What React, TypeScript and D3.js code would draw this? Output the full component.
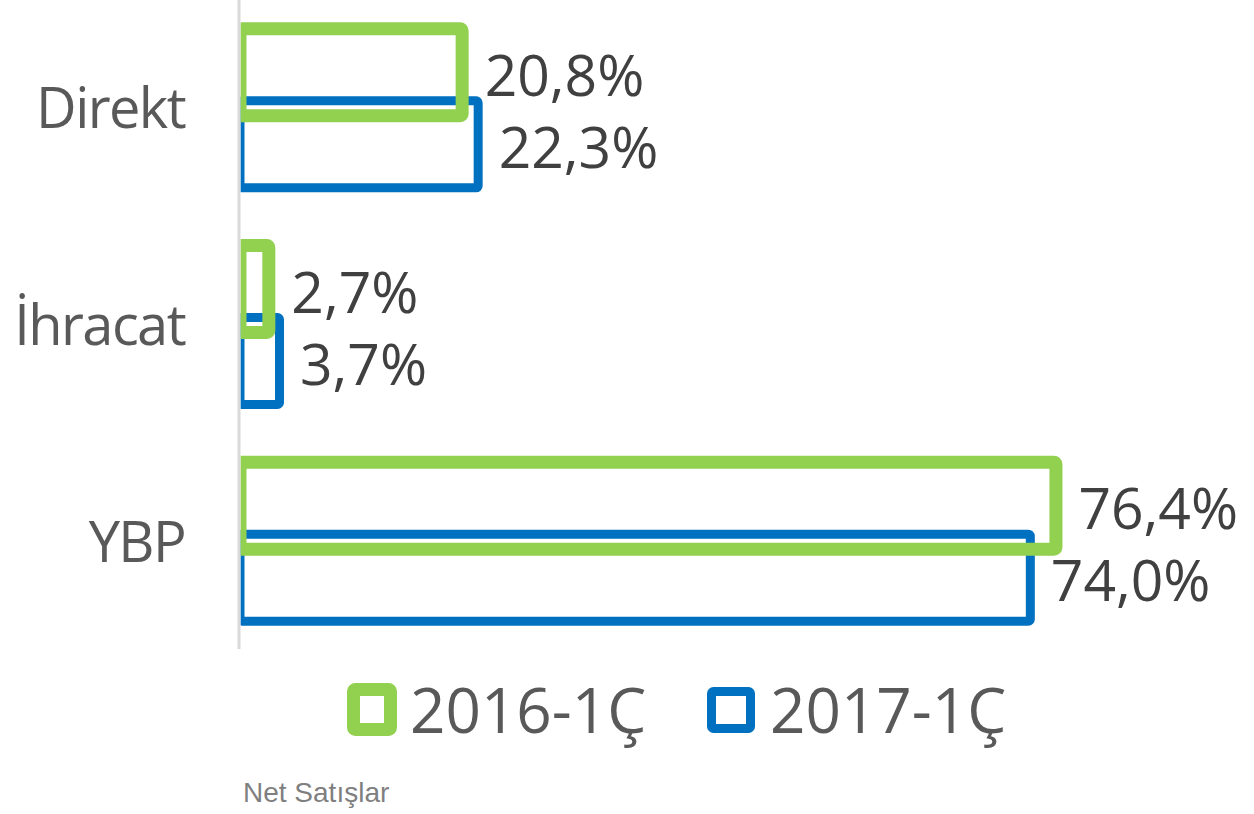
import React from "react";
import * as d3 from "d3";

const categories = ["Direkt", "İhracat", "YBP"];
const series2016 = [20.8, 2.7, 76.4];
const series2017 = [22.3, 3.7, 74.0];
const seriesNames = ["2016-1Ç", "2017-1Ç"];
const labels2016 = ["20,8%", "2,7%", "76,4%"];
const labels2017 = ["22,3%", "3,7%", "74,0%"];
const footer = "Net Satışlar";

const GREEN = "#92d050";
const BLUE = "#0070c0";
const FONT = "'Open Sans', sans-serif";

export default function App() {
  const W = 1254;
  const H = 814;
  const x0 = 240;
  const x = d3.scaleLinear().domain([0, 80]).range([x0, x0 + 80 * 10.68]);
  const y = d3.scaleBand<string>().domain(categories).range([0, 650]);
  const off = 36;
  const barH = 87;

  const series = [
    { name: seriesNames[1], vals: series2017, labels: labels2017, color: BLUE, sw: 9, dy: off },
    { name: seriesNames[0], vals: series2016, labels: labels2016, color: GREEN, sw: 13, dy: -off },
  ];

  return (
    <svg width={W} height={H} style={{ position: "absolute", left: 0, top: 0, background: "#fff" }}>
      <defs>
        <clipPath id="plotClip">
          <rect x={x0 + 0.7} y={0} width={W} height={660} />
        </clipPath>
      </defs>
      <rect x={0} y={0} width={W} height={H} fill="#fff" />
      {/* axis line */}
      <line x1={239} x2={239} y1={0} y2={649} stroke="#d9d9d9" strokeWidth={3} />
      {/* category labels */}
      {categories.map((c) => (
        <text
          key={c}
          x={185}
          y={(y(c) as number) + y.bandwidth() / 2 + 20}
          textAnchor="end"
          fontFamily={FONT}
          fontSize={56}
          letterSpacing={-1.6}
          fill="#595959"
        >
          {c}
        </text>
      ))}
      {/* bars */}
      <g clipPath="url(#plotClip)">
        {series.map((s) =>
          categories.map((c, i) => {
            const cy = (y(c) as number) + y.bandwidth() / 2 + s.dy;
            return (
              <rect
                key={s.name + c}
                x={x(0)}
                y={cy - barH / 2}
                width={x(s.vals[i]) - x(0)}
                height={barH}
                fill="none"
                stroke={s.color}
                strokeWidth={s.sw}
                rx={2}
              />
            );
          })
        )}
      </g>
      {/* value labels */}
      {series.map((s) =>
        categories.map((c, i) => {
          const cy = (y(c) as number) + y.bandwidth() / 2 + s.dy;
          return (
            <text
              key={"l" + s.name + c}
              x={x(s.vals[i]) + s.sw / 2 + 16}
              y={cy + 23.5}
              fontFamily={FONT}
              fontSize={57}
              fill="#404040"
            >
              {s.labels[i]}
            </text>
          );
        })
      )}
      {/* legend */}
      <rect x={353.5} y={689.5} width={37} height={40} fill="none" stroke={GREEN} strokeWidth={13} rx={2} />
      <text x={410} y={733} fontFamily={FONT} fontSize={62} fill="#595959">
        {seriesNames[0]}
      </text>
      <rect x={711.5} y={691.5} width={39} height={37} fill="none" stroke={BLUE} strokeWidth={9} rx={2} />
      <text x={770} y={733} fontFamily={FONT} fontSize={62} fill="#595959">
        {seriesNames[1]}
      </text>
      {/* footer */}
      <text x={243} y={802} fontFamily="'Liberation Sans', Arial, sans-serif" fontSize={28} fill="#7f7f7f">
        {footer}
      </text>
    </svg>
  );
}
